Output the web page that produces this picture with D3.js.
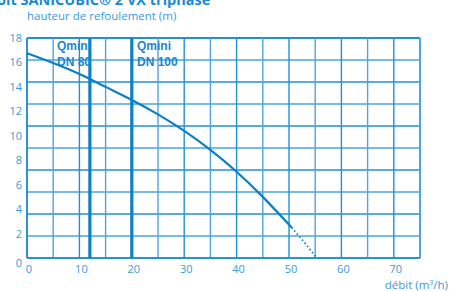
<!DOCTYPE html>
<html><head><meta charset="utf-8">
<script src="https://cdn.jsdelivr.net/npm/d3@7"></script>
<style>body{margin:0;background:#fff}svg{display:block}</style>
</head><body>
<svg id="c" width="452" height="291"></svg>
<script>
const xTicks=[0,10,20,30,40,50,60,70];
const yTicks=[0,2,4,6,8,10,12,14,16,18];
const xGrid=[0,5,10,15,20,25,30,35,40,45,50,55,60,65,70,75];
const yGrid=[0,1.8,3.6,5.4,7.2,9,10.8,12.6,14.4,16.2,18];
const curveX=[0,5,10,15,20,25,30,35,40,45,50.5];
const curveY=[16.75,15.95,15.05,14.0,12.93,11.75,10.4,8.85,7.06,5.0,2.5];
const dottedX=[50.5,52.9,55.3];
const dottedY=[2.5,1.3,0];
const qminiX=[12,20];
const qminiLabels=["DN 80","DN 100"];
const title="oit SANICUBIC® 2 VX triphasé";
const yTitle="hauteur de refoulement (m)";
const blue="#3a9ad9", line="#0a7fc8";

const svg=d3.select("#c");
const x=d3.scaleLinear().domain([0,75]).range([27,420]);
const y=d3.scaleLinear().domain([0,18]).range([258,38]);

svg.append("g").selectAll("line").data(yGrid).join("line")
 .attr("x1",x(0)).attr("x2",x(75)).attr("y1",d=>y(d)).attr("y2",d=>y(d))
 .attr("stroke",(d,i)=>i%2?"#4ea5dd":"#2390d5").attr("stroke-width",(d,i)=>i===10?2:1.4);
svg.append("g").selectAll("line").data(xGrid).join("line")
 .attr("x1",d=>x(d)).attr("x2",d=>x(d)).attr("y1",y(0)).attr("y2",y(18))
 .attr("stroke",(d,i)=>i%2?"#4ea5dd":"#2390d5").attr("stroke-width",(d,i)=>i===15?2:1.4);
svg.append("line").attr("x1",x(0)).attr("x2",x(0)).attr("y1",y(0)).attr("y2",y(18)).attr("stroke","#1a8ad2").attr("stroke-width",1.5);
svg.append("line").attr("x1",x(0)).attr("x2",x(75)).attr("y1",y(0)).attr("y2",y(0)).attr("stroke","#1a8ad2").attr("stroke-width",1.5);

svg.append("g").selectAll("line").data(qminiX).join("line")
 .attr("x1",d=>x(d)).attr("x2",d=>x(d)).attr("y1",y(0)).attr("y2",y(18))
 .attr("stroke","#0a80c8").attr("stroke-width",3.2);

const lab=svg.append("g").attr("font-family","'Liberation Sans Narrow','Arial Narrow','Liberation Sans',sans-serif")
 .attr("font-weight","bold").attr("font-size",12).attr("fill","#1a87cc");
[57,137].forEach((px,i)=>{
 lab.append("text").attr("x",px).attr("y",50).text("Qmini");
 lab.append("text").attr("x",px).attr("y",66).text(qminiLabels[i]);
});

const ln=d3.line().x(d=>x(d[0])).y(d=>y(d[1])).curve(d3.curveNatural);
svg.append("path").attr("d",ln(d3.zip(curveX,curveY))).attr("fill","none").attr("stroke",line).attr("stroke-width",2.2);
svg.append("path").attr("d",d3.line().x(d=>x(d[0])).y(d=>y(d[1]))(d3.zip(dottedX,dottedY)))
 .attr("fill","none").attr("stroke",line).attr("stroke-width",1.8).attr("stroke-dasharray","1.5,2.5");

const tf="'Open Sans',sans-serif";
svg.append("g").selectAll("text").data(yTicks).join("text")
 .attr("x",22).attr("y",d=>d===0?y(d)+9:y(d)+4).attr("text-anchor","end")
 .attr("font-family",tf).attr("font-size",11).attr("fill",blue).text(d=>d);
svg.append("g").selectAll("text").data(xTicks).join("text")
 .attr("x",d=>x(d)+2).attr("y",273).attr("text-anchor","middle")
 .attr("font-family",tf).attr("font-size",11).attr("fill",blue).text(d=>d);
svg.append("text").attr("x",27).attr("y",20).attr("font-family",tf).attr("font-size",11.5).attr("fill",blue).text(yTitle);
const dt=svg.append("text").attr("x",448).attr("y",289).attr("text-anchor","end").attr("font-family",tf).attr("font-size",11.5).attr("fill",blue);
dt.append("tspan").text("débit (m");
dt.append("tspan").attr("font-size",7).attr("dy",-4).text("3");
dt.append("tspan").attr("dy",4).text("/h)");
svg.append("text").attr("x",-3).attr("y",5).attr("font-family",tf).attr("font-weight","bold").attr("font-size",14.5).attr("fill","#1a8ad2").text(title);
</script>
</body></html>
